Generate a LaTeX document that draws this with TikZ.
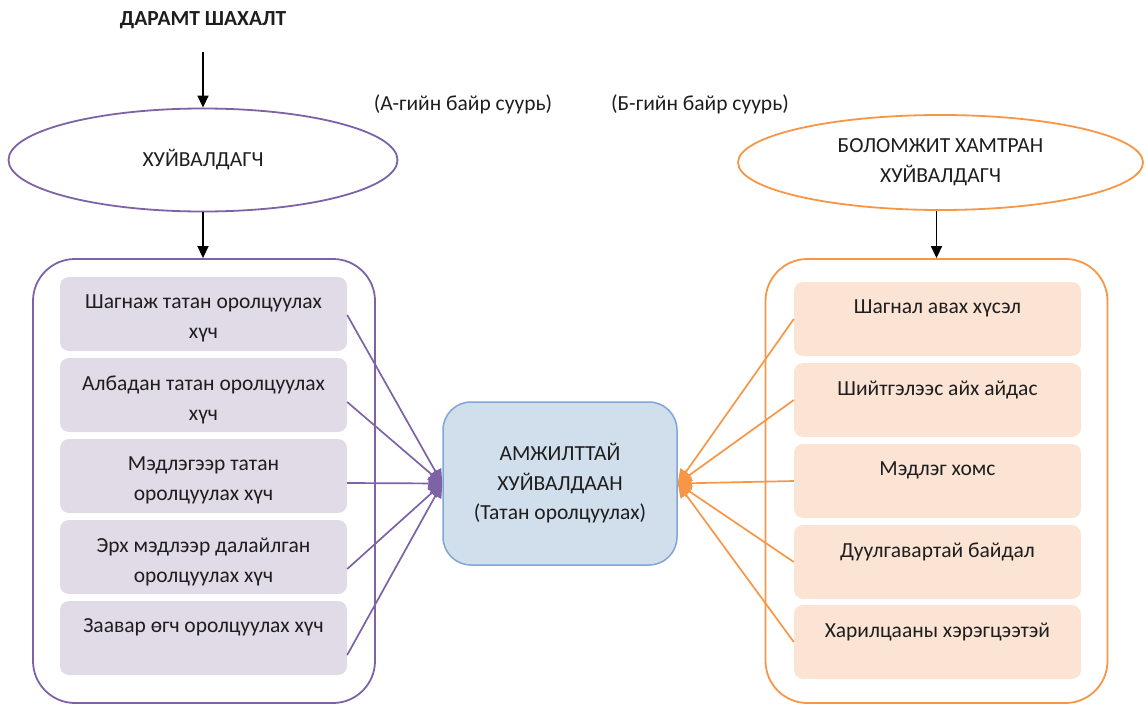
\documentclass[tikz,border=0pt]{standalone}
\usepackage{fontspec}
\setmainfont{Carlito}
\usetikzlibrary{arrows.meta,shapes.geometric}
\definecolor{purpleline}{HTML}{7D62A6}
\definecolor{purplefill}{HTML}{E0DBE7}
\definecolor{orangeline}{HTML}{F79646}
\definecolor{orangefill}{HTML}{FCE4D5}
\definecolor{blueline}{HTML}{7EA6D6}
\definecolor{bluefill}{HTML}{D1DEEB}
\definecolor{textgray}{HTML}{1E1E1E}
\newcommand{\boxfont}{\fontsize{21.5}{30}\selectfont}
\tikzset{
  outerbox/.style={draw, line width=1.8pt, rounded corners=42pt,
    minimum width=342pt, minimum height=444pt},
  innerbox/.style={rounded corners=9pt, minimum width=287pt, minimum height=74pt},
  oval/.style={ellipse, draw, line width=1.8pt, fill=white, inner sep=0pt, align=center},
  boxtext/.style={anchor=north, align=center, inner sep=0pt},
  goal/.style={draw=blueline, fill=bluefill, line width=1.5pt, rounded corners=28pt,
    minimum width=234pt, minimum height=163pt, align=center,
    font=\fontsize{21.5}{29.5}\selectfont},
  pressure/.style={-{Triangle[length=12pt,width=11pt]}, line width=1.5pt},
  link/.style={-{Triangle[length=14pt,width=13pt]}, line width=1.7pt}
}

\begin{document}
\begin{tikzpicture}[x=1pt,y=-1pt,
    every node/.append style={font=\boxfont, text=textgray}]
  \useasboundingbox (0,0) rectangle (1145,706);

  % labels on top
  \node[font=\boxfont\bfseries] (press) at (203,20) {ДАРАМТ ШАХАЛТ};
  \node (posA) at (463,104) {(А-гийн байр суурь)};
  \node (posB) at (700,104) {(Б-гийн байр суурь)};

  % the two sides
  \node[oval, draw=purpleline, minimum width=389pt, minimum height=103pt]
    (consp) at (203,160) {ХУЙВАЛДАГЧ};
  \node[oval, draw=orangeline, minimum width=405pt, minimum height=95pt]
    (partner) at (940.5,162.5) {БОЛОМЖИТ ХАМТРАН\\ХУЙВАЛДАГЧ};

  \node[outerbox, draw=purpleline] (frameA) at (204,481) {};
  \node[outerbox, draw=orangeline] (frameB) at (936.5,481) {};

  \draw[pressure] ([yshift=-20pt]press.south) -- (consp.north);
  \draw[pressure] (consp.south) -- (consp.south |- frameA.north);
  \draw[pressure] (partner.south -| frameB.north) -- (frameB.north);

  % forces of A
  \foreach \i/\y/\txt in {
      1/314/{Шагнаж татан оролцуулах\\хүч},
      2/395/{Албадан татан оролцуулах\\хүч},
      3/476/{Мэдлэгээр татан\\оролцуулах хүч},
      4/557/{Эрх мэдлээр далайлган\\оролцуулах хүч},
      5/638/{Заавар өгч оролцуулах хүч}}{
    \node[innerbox, fill=purplefill] (l\i) at (203.5,\y) {};
    \node[boxtext] (lt\i) at ([yshift=-18pt]l\i.north) {\txt};
  }

  % motives of B
  \foreach \i/\y/\txt in {
      1/319/{Шагнал авах хүсэл},
      2/400/{Шийтгэлээс айх айдас},
      3/481/{Мэдлэг хомс},
      4/562/{Дуулгавартай байдал},
      5/642/{Харилцааны хэрэгцээтэй}}{
    \node[innerbox, fill=orangefill] (r\i) at (937.5,\y) {};
    \node[boxtext] (rt\i) at ([yshift=-18pt]r\i.north) {\txt};
  }

  \node[goal] (goal) at (560,483.5) {АМЖИЛТТАЙ\\ХУЙВАЛДААН\\(Татан оролцуулах)};

  \foreach \i/\s in {1/-1,2/-7,3/-7,4/-12,5/-17}
    \draw[link, purpleline] ([yshift=\s pt]l\i.east) -- (goal.west);
  \foreach \i in {1,...,5}
    \draw[link, orangeline] (r\i.west) -- (goal.east);
\end{tikzpicture}
\end{document}
